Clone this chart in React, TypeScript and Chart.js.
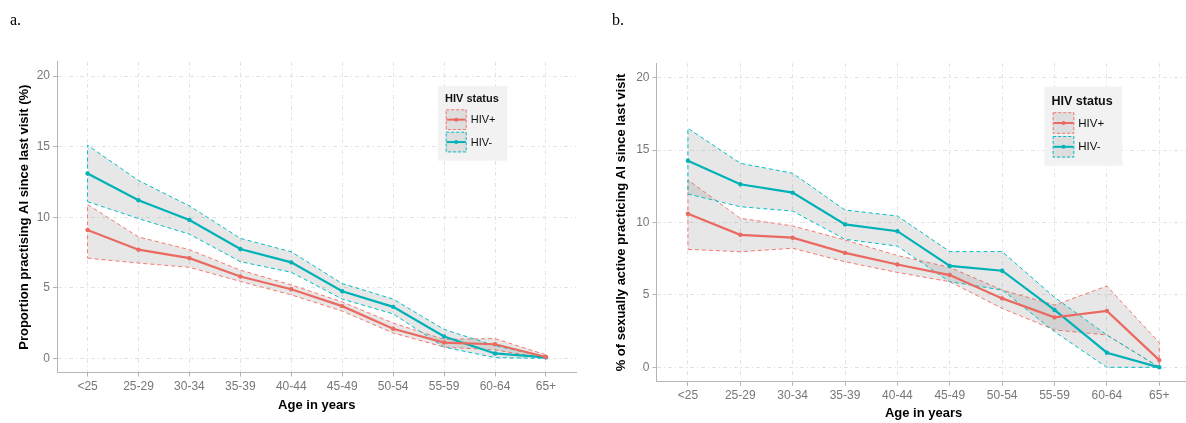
import React, { useEffect, useRef } from "react";
import { Chart, registerables } from "chart.js";

Chart.register(...registerables);

// Age bands shared by both panels
const ageGroups = ["<25", "25-29", "30-34", "35-39", "40-44", "45-49", "50-54", "55-59", "60-64", "65+"];
const yTickValues = [0, 5, 10, 15, 20];

// Panel a: proportion practising AI since last visit (%)
const aPosMean = [9.1, 7.7, 7.1, 5.8, 4.9, 3.7, 2.1, 1.12, 1.0, 0.1];
const aPosLow = [7.1, 6.75, 6.45, 5.45, 4.5, 3.35, 1.8, 0.8, 0.6, 0.0];
const aPosHigh = [10.9, 8.6, 7.7, 6.25, 5.2, 4.0, 2.5, 1.35, 1.4, 0.25];
const aNegMean = [13.1, 11.2, 9.8, 7.75, 6.8, 4.75, 3.65, 1.55, 0.35, 0.07];
const aNegLow = [11.1, 9.9, 8.8, 6.85, 6.1, 4.2, 3.15, 0.8, 0.05, 0.0];
const aNegHigh = [15.1, 12.6, 10.8, 8.5, 7.55, 5.3, 4.2, 2.05, 0.9, 0.1];

// Panel b: % of sexually active practicing AI since last visit
const bPosMean = [10.6, 9.15, 8.95, 7.9, 7.1, 6.37, 4.76, 3.45, 3.9, 0.5];
const bPosLow = [8.15, 7.98, 8.22, 7.29, 6.55, 5.91, 4.07, 2.58, 2.23, 0.0];
const bPosHigh = [12.94, 10.29, 9.76, 8.79, 7.72, 6.9, 5.34, 4.3, 5.61, 1.7];
const bNegMean = [14.27, 12.64, 12.06, 9.87, 9.4, 7.0, 6.67, 3.96, 1.01, 0.0];
const bNegLow = [11.97, 11.09, 10.79, 8.84, 8.37, 5.91, 5.34, 2.46, 0.0, 0.0];
const bNegHigh = [16.5, 14.09, 13.4, 10.86, 10.45, 7.99, 7.99, 4.83, 2.23, 0.0];

const legendTitle = "HIV status";
const seriesLabels = ["HIV+", "HIV-"];

const RED = "#F8766D";
const TEAL = "#00BFC4";
const RED_LINE = "#ea6a61";
const TEAL_LINE = "#00b2b7";
const RIBBON = "rgba(128,128,128,0.19)";
const GRID = "#e2e2e2";
const AXIS = "#b5b5b5";
const TICK_TEXT = "#777777";
const SANS = '"Liberation Sans", Arial, Helvetica, sans-serif';

type Band = { mean: number[]; low: number[]; high: number[] };

type LegendBox = {
  x: number; y: number; w: number; h: number;
  titleX: number; titleY: number; titleSize: number;
  keyX: number; keyW: number; keyTops: number[]; keyH: number;
  labelX: number; labelSize: number;
};

type PanelSpec = {
  left: number;
  width: number;
  height: number;
  pad: { left: number; top: number; right: number; bottom: number };
  yWidth: number;
  xHeight: number;
  yTitle: string;
  yTitlePad: number;
  xTitlePad: number;
  pos: Band;
  neg: Band;
  legend: LegendBox;
};

const toPoints = (arr: number[]) => arr.map((y, x) => ({ x, y }));

// Closed outline of a confidence band: lower edge left to right, upper edge back, then close
const outlinePoints = (b: Band) => {
  const pts = toPoints(b.low);
  for (let i = b.high.length - 1; i >= 0; i--) pts.push({ x: i, y: b.high[i] });
  pts.push({ x: 0, y: b.low[0] });
  return pts;
};

function legendPlugin(L: LegendBox) {
  return {
    id: "hivLegend",
    afterDatasetsDraw(chart: any) {
      const ctx: CanvasRenderingContext2D = chart.ctx;
      ctx.save();
      ctx.fillStyle = "#f2f2f2";
      ctx.fillRect(L.x, L.y, L.w, L.h);
      ctx.fillStyle = "#111";
      ctx.font = `bold ${L.titleSize}px ${SANS}`;
      ctx.textAlign = "left";
      ctx.textBaseline = "middle";
      ctx.fillText(legendTitle, L.titleX, L.titleY);
      [
        [RED, RED_LINE],
        [TEAL, TEAL_LINE],
      ].forEach(([edgeColor, lineColor], i) => {
        const top = L.keyTops[i];
        const cy = top + L.keyH / 2;
        ctx.fillStyle = "#dedede";
        ctx.fillRect(L.keyX, top, L.keyW, L.keyH);
        ctx.setLineDash([3, 2]);
        ctx.lineWidth = 1;
        ctx.strokeStyle = edgeColor;
        ctx.strokeRect(L.keyX + 0.5, top + 0.5, L.keyW - 1, L.keyH - 1);
        ctx.setLineDash([]);
        ctx.lineWidth = 2;
        ctx.strokeStyle = lineColor;
        ctx.beginPath();
        ctx.moveTo(L.keyX + 1, cy);
        ctx.lineTo(L.keyX + L.keyW - 1, cy);
        ctx.stroke();
        ctx.fillStyle = lineColor;
        ctx.beginPath();
        ctx.arc(L.keyX + L.keyW / 2, cy, 2, 0, Math.PI * 2);
        ctx.fill();
        ctx.fillStyle = "#111";
        ctx.font = `${L.labelSize}px ${SANS}`;
        ctx.fillText(seriesLabels[i], L.labelX, cy + 0.5);
      });
      ctx.restore();
    },
  };
}

function buildDatasets(pos: Band, neg: Band) {
  const line = (label: string, data: number[], color: string) => ({
    label,
    data: toPoints(data),
    borderColor: color,
    backgroundColor: color,
    borderWidth: 2.2,
    pointRadius: 2.2,
    pointBorderWidth: 0,
    pointBackgroundColor: color,
    fill: false,
    tension: 0,
    order: 0,
  });
  const edge = (label: string, data: number[], order: number, fillTo?: number) => ({
    label,
    data: toPoints(data),
    borderWidth: 0,
    pointRadius: 0,
    backgroundColor: RIBBON,
    fill: fillTo === undefined ? false : { target: fillTo },
    tension: 0,
    order,
  });
  const outline = (label: string, band: Band, color: string, order: number) => ({
    label,
    data: outlinePoints(band),
    borderColor: color,
    borderWidth: 1,
    borderDash: [4, 3],
    pointRadius: 0,
    fill: false,
    tension: 0,
    order,
  });
  return [
    line("HIV+", pos.mean, RED_LINE), // 0
    line("HIV-", neg.mean, TEAL_LINE), // 1
    edge("HIV+ lower", pos.low, 4), // 2
    edge("HIV+ upper", pos.high, 4, 2), // 3
    outline("HIV+ band", pos, RED, 3), // 4
    edge("HIV- lower", neg.low, 2), // 5
    edge("HIV- upper", neg.high, 2, 5), // 6
    outline("HIV- band", neg, TEAL, 1), // 7
  ];
}

function Panel({ spec }: { spec: PanelSpec }) {
  const ref = useRef<HTMLCanvasElement>(null);
  useEffect(() => {
    if (!ref.current) return;
    const tickFont = { family: SANS, size: 12 };
    const titleFont = { family: SANS, size: 13, weight: "bold" as const };
    const chart = new Chart(ref.current, {
      type: "line",
      data: { datasets: buildDatasets(spec.pos, spec.neg) as any },
      options: {
        animation: false,
        responsive: false,
        maintainAspectRatio: false,
        layout: { padding: spec.pad },
        plugins: {
          legend: { display: false },
          tooltip: { enabled: false },
          title: { display: false },
        },
        scales: {
          x: {
            type: "linear",
            min: -0.6,
            max: 9.6,
            afterBuildTicks: (axis: any) => {
              axis.ticks = ageGroups.map((_, i) => ({ value: i }));
            },
            afterFit: (scale: any) => {
              scale.height = spec.xHeight;
            },
            ticks: {
              autoSkip: false,
              maxRotation: 0,
              padding: 3,
              font: tickFont,
              color: TICK_TEXT,
              callback: (v: any) => ageGroups[Math.round(Number(v))] ?? "",
            },
            grid: { color: GRID, lineWidth: 1, drawTicks: true, tickLength: 4, tickColor: AXIS, tickWidth: 1 },
            border: { display: true, color: AXIS, width: 1, dash: [4, 3, 1, 3] },
            title: {
              display: true,
              text: "Age in years",
              color: "#000",
              font: titleFont,
              padding: { top: 0, bottom: spec.xTitlePad },
            },
          },
          y: {
            type: "linear",
            min: -1,
            max: 21,
            afterBuildTicks: (axis: any) => {
              axis.ticks = yTickValues.map((v) => ({ value: v }));
            },
            afterFit: (scale: any) => {
              scale.width = spec.yWidth;
            },
            ticks: { padding: 3, font: tickFont, color: TICK_TEXT },
            grid: { color: GRID, lineWidth: 1, drawTicks: true, tickLength: 4, tickColor: AXIS, tickWidth: 1 },
            border: { display: true, color: AXIS, width: 1, dash: [4, 3, 1, 3] },
            title: {
              display: true,
              text: spec.yTitle,
              color: "#000",
              font: titleFont,
              padding: { top: spec.yTitlePad, bottom: 0 },
            },
          },
        },
      },
      plugins: [legendPlugin(spec.legend)],
    });
    return () => chart.destroy();
  }, [spec]);
  return (
    <canvas
      ref={ref}
      width={spec.width}
      height={spec.height}
      style={{ position: "absolute", left: spec.left, top: 0, width: spec.width, height: spec.height }}
    />
  );
}

const panelA: PanelSpec = {
  left: 0,
  width: 600,
  height: 423,
  pad: { left: 0, top: 61.9, right: 23.5, bottom: 0 },
  yWidth: 57,
  xHeight: 50.5,
  yTitle: "Proportion practising AI since last visit (%)",
  yTitlePad: 16.2,
  xTitlePad: 9.7,
  pos: { mean: aPosMean, low: aPosLow, high: aPosHigh },
  neg: { mean: aNegMean, low: aNegLow, high: aNegHigh },
  legend: {
    x: 437.7, y: 86, w: 69.6, h: 74.7,
    titleX: 445, titleY: 99.3, titleSize: 11,
    keyX: 445.7, keyW: 21, keyTops: [109.3, 131.7], keyH: 20.7,
    labelX: 470.7, labelSize: 11,
  },
};

const panelB: PanelSpec = {
  left: 600,
  width: 600,
  height: 423,
  pad: { left: 0, top: 63.2, right: 9.3, bottom: 0 },
  yWidth: 56.5,
  xHeight: 41.2,
  yTitle: "% of sexually active practicing AI since last visit",
  yTitlePad: 13.9,
  xTitlePad: 1.9,
  pos: { mean: bPosMean, low: bPosLow, high: bPosHigh },
  neg: { mean: bNegMean, low: bNegLow, high: bNegHigh },
  legend: {
    x: 444.3, y: 86.7, w: 78, h: 79,
    titleX: 451.5, titleY: 101.7, titleSize: 12.5,
    keyX: 452.7, keyW: 21.6, keyTops: [112.2, 136], keyH: 21.6,
    labelX: 478.3, labelSize: 11.5,
  },
};

const panelTag: React.CSSProperties = {
  position: "absolute",
  top: 11,
  fontFamily: '"Liberation Serif", "Times New Roman", serif',
  fontSize: 16,
  color: "#000",
};

export default function App() {
  return (
    <div
      style={{
        position: "absolute",
        left: 0,
        top: 0,
        width: 1186,
        height: 423,
        overflow: "hidden",
        background: "#fff",
      }}
    >
      <Panel spec={panelA} />
      <Panel spec={panelB} />
      <div style={{ ...panelTag, left: 10 }}>a.</div>
      <div style={{ ...panelTag, left: 612 }}>b.</div>
    </div>
  );
}
